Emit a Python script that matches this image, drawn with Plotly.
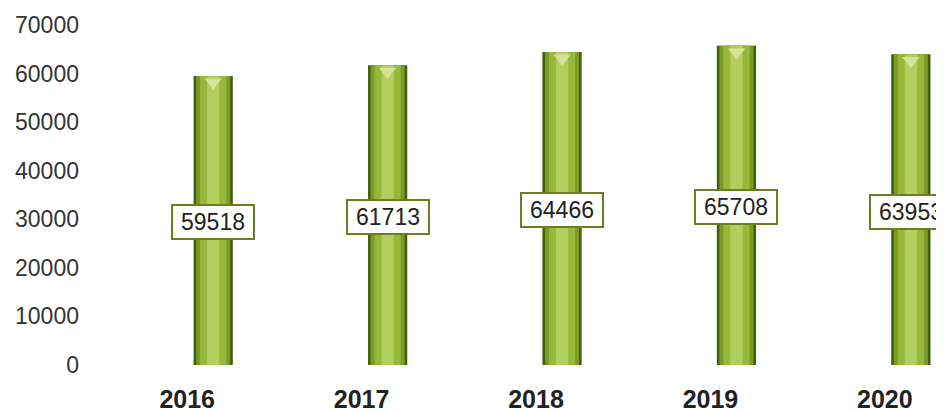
import plotly.graph_objects as go

years = ["2016", "2017", "2018", "2019", "2020"]
values = [59518, 61713, 64466, 65708, 63953]
y_ticks = [0, 10000, 20000, 30000, 40000, 50000, 60000, 70000]

fig = go.Figure()

# Fake cylinder: stacked overlays of narrower, lighter bars.
for width, color in [
    (0.225, "#44600e"),
    (0.195, "#7a9c25"),
    (0.15, "#98b83c"),
    (0.07, "#b2ce5c"),
]:
    fig.add_trace(
        go.Bar(
            x=years,
            y=values,
            width=width,
            marker=dict(color=color, line=dict(width=0)),
            hoverinfo="skip",
        )
    )

# Light cap at the top of each bar
fig.add_trace(
    go.Scatter(
        x=years,
        y=[v - 1300 for v in values],
        mode="markers",
        marker=dict(symbol="triangle-down", size=15, color="#d3e39a"),
        hoverinfo="skip",
    )
)

# Value labels in boxes, halfway up each bar
for i, v in enumerate(values):
    fig.add_annotation(
        x=i,
        y=v / 2,
        yshift=-2,
        text=str(v),
        showarrow=False,
        font=dict(family="Liberation Sans, Arial", size=23, color="#222222"),
        bgcolor="white",
        bordercolor="#6b7f22",
        borderwidth=2,
        borderpad=1,
        width=78,
        height=30,
    )

# The page body has an 8px margin, so margins are shifted by -8px.
fig.update_layout(
    width=944,
    height=412,
    margin=dict(l=118, r=8, t=17, b=55),
    paper_bgcolor="white",
    plot_bgcolor="white",
    barmode="overlay",
    showlegend=False,
    xaxis=dict(
        type="category",
        range=[-0.5, 4.19],
        automargin=False,
        showgrid=False,
        showline=False,
        zeroline=False,
        ticks="",
        ticklabelstandoff=17,
        ticklabelshift=-26,
        tickfont=dict(family="Liberation Sans, Arial", size=25, color="#222222", weight="bold"),
    ),
    yaxis=dict(
        range=[0, 70000],
        tickvals=y_ticks,
        tickformat="d",
        automargin=False,
        showgrid=False,
        showline=False,
        zeroline=False,
        ticks="",
        ticklabelstandoff=46,
        tickfont=dict(family="Liberation Sans, Arial", size=23, color="#333333"),
    ),
)

fig.write_html("out.html")
